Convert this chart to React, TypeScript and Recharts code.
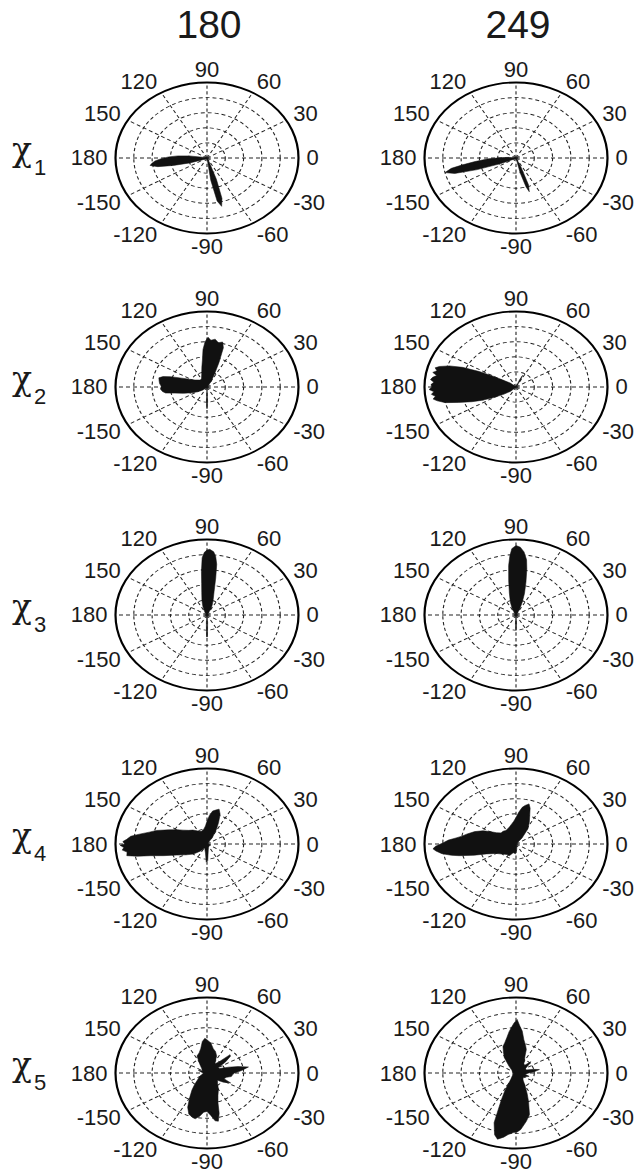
import { RadarChart, Radar, PolarGrid, PolarAngleAxis, PolarRadiusAxis } from 'recharts';

// column headers and row labels (chi_n)
const columnTitles = ['180', '249'];
const rowIndices = ['1', '2', '3', '4', '5'];
const angleTicks = [0, 30, 60, 90, 120, 150, 180, 210, 240, 270, 300, 330];
const ringLevels = [0.2, 0.4, 0.6, 0.8];

// [angle in degrees (0 = right, counter-clockwise), normalized density]
const chi1_180 = [
  [0, 0], [160, 0], [168, 0.05], [172, 0.2], [175, 0.32], [178, 0.42], [181, 0.5], [184, 0.57], [187, 0.61],
  [189, 0.63], [192, 0.55], [195, 0.38], [199, 0.2], [205, 0.06], [215, 0], [272, 0], [278, 0.3],
  [281, 0.58], [284, 0.66], [287, 0.56], [290, 0.3], [295, 0.05], [300, 0], [360, 0],
];
const chi1_249 = [
  [0, 0], [168, 0], [174, 0.08], [178, 0.15], [182, 0.3], [186, 0.45], [189, 0.6], [191, 0.72],
  [194, 0.8], [197, 0.7], [200, 0.45], [204, 0.18], [210, 0.04], [218, 0], [278, 0], [283, 0.2],
  [286, 0.4], [288, 0.47], [291, 0.38], [295, 0.12], [300, 0], [360, 0],
];
const chi2_180 = [
  [0, 0], [50, 0], [58, 0.08], [64, 0.18], [68, 0.35], [71, 0.55], [74, 0.62], [78, 0.6], [82, 0.64],
  [86, 0.62], [89, 0.66], [92, 0.6], [95, 0.5], [98, 0.36], [102, 0.27], [110, 0.17], [120, 0.12],
  [130, 0.12], [145, 0.16], [152, 0.22], [157, 0.3], [161, 0.42], [164, 0.5], [167, 0.54], [171, 0.53],
  [175, 0.52], [179, 0.5], [183, 0.51], [187, 0.49], [190, 0.46], [193, 0.36], [198, 0.27], [205, 0.18],
  [212, 0.12], [222, 0.06], [235, 0], [264, 0], [268, 0.2], [270, 0.29], [272, 0.2], [276, 0], [360, 0],
];
const chi2_249 = [
  [0, 0], [55, 0], [62, 0.12], [65, 0.17], [68, 0.1], [75, 0], [130, 0], [140, 0.08], [146, 0.14],
  [150, 0.28], [153, 0.45], [156, 0.64], [159, 0.78], [162, 0.88], [164, 0.92], [166, 0.89], [168, 0.93],
  [170, 0.88], [172, 0.92], [174, 0.94], [176, 0.9], [178, 0.93], [180, 0.92], [182, 0.95], [184, 0.9],
  [186, 0.93], [188, 0.89], [190, 0.92], [192, 0.88], [195, 0.8], [198, 0.66], [202, 0.52], [205, 0.42],
  [210, 0.28], [216, 0.16], [224, 0.08], [232, 0], [360, 0],
];
const chi3_180 = [
  [0, 0], [55, 0], [62, 0.1], [68, 0.16], [72, 0.22], [76, 0.32], [79, 0.5], [81, 0.68], [83, 0.78],
  [85, 0.84], [88, 0.87], [90, 0.86], [92, 0.83], [94, 0.76], [96, 0.58], [98, 0.42], [101, 0.3],
  [106, 0.2], [112, 0.12], [120, 0.05], [130, 0], [262, 0], [266, 0.1], [269, 0.29], [271, 0.29],
  [274, 0.1], [278, 0], [360, 0],
];
const chi3_249 = [
  [0, 0], [55, 0], [62, 0.08], [68, 0.18], [72, 0.3], [76, 0.45], [79, 0.62], [81, 0.74], [84, 0.84],
  [87, 0.9], [90, 0.92], [93, 0.88], [95, 0.78], [97, 0.66], [100, 0.46], [104, 0.3], [110, 0.18],
  [118, 0.08], [128, 0], [264, 0], [267, 0.12], [270, 0.2], [273, 0.12], [276, 0], [360, 0],
];
const chi4_180 = [
  [0, 0], [45, 0], [55, 0.1], [62, 0.22], [66, 0.31], [70, 0.42], [74, 0.48], [78, 0.46], [82, 0.44],
  [86, 0.38], [90, 0.3], [94, 0.24], [100, 0.2], [110, 0.18], [120, 0.2], [130, 0.24], [138, 0.27],
  [145, 0.32], [150, 0.38], [156, 0.46], [162, 0.58], [166, 0.65], [170, 0.75], [173, 0.84], [176, 0.88],
  [178, 0.92], [180, 0.9], [181, 0.95], [183, 0.91], [185, 0.93], [187, 0.88], [190, 0.89], [192, 0.78],
  [194, 0.64], [198, 0.5], [204, 0.36], [212, 0.27], [222, 0.2], [232, 0.12], [245, 0.06], [262, 0.12],
  [268, 0.24], [272, 0.22], [280, 0.08], [295, 0.04], [320, 0.03], [345, 0.04], [360, 0],
];
const chi4_249 = [
  [0, 0], [40, 0], [50, 0.1], [57, 0.24], [63, 0.32], [68, 0.4], [72, 0.5], [75, 0.55], [79, 0.52],
  [82, 0.49], [86, 0.42], [90, 0.35], [95, 0.3], [100, 0.27], [107, 0.24], [114, 0.22], [122, 0.21],
  [130, 0.22], [138, 0.22], [145, 0.26], [150, 0.33], [154, 0.4], [160, 0.48], [166, 0.55], [170, 0.6],
  [173, 0.66], [176, 0.74], [179, 0.8], [182, 0.88], [184, 0.91], [186, 0.88], [189, 0.82], [192, 0.72],
  [194, 0.64], [198, 0.48], [202, 0.35], [210, 0.25], [222, 0.2], [235, 0.17], [245, 0.17], [255, 0.12],
  [268, 0.13], [275, 0.08], [290, 0.03], [360, 0],
];
const chi5_180 = [
  [0, 0.3], [5, 0.38], [10, 0.46], [14, 0.35], [18, 0.25], [23, 0.15], [30, 0.14], [36, 0.25], [41, 0.34],
  [44, 0.35], [48, 0.2], [54, 0.15], [60, 0.18], [65, 0.25], [72, 0.3], [78, 0.33], [84, 0.4], [90, 0.44],
  [93, 0.46], [97, 0.42], [102, 0.33], [108, 0.28], [116, 0.25], [124, 0.14], [135, 0.08], [150, 0.06],
  [160, 0.1], [170, 0.06], [185, 0.04], [200, 0.06], [212, 0.1], [220, 0.13], [228, 0.2], [234, 0.28],
  [240, 0.38], [245, 0.5], [250, 0.58], [255, 0.61], [258, 0.62], [262, 0.58], [266, 0.52], [270, 0.51],
  [274, 0.56], [278, 0.64], [281, 0.65], [284, 0.55], [287, 0.41], [292, 0.32], [300, 0.25], [310, 0.18],
  [320, 0.15], [326, 0.22], [333, 0.29], [338, 0.2], [345, 0.22], [350, 0.27], [355, 0.28], [360, 0.3],
];
const chi5_249 = [
  [0, 0.14], [5, 0.2], [10, 0.26], [14, 0.2], [20, 0.12], [30, 0.12], [40, 0.2], [43, 0.22], [47, 0.14],
  [55, 0.15], [62, 0.2], [66, 0.24], [70, 0.33], [74, 0.38], [79, 0.45], [83, 0.56], [86, 0.62], [89, 0.71],
  [92, 0.66], [95, 0.6], [98, 0.55], [102, 0.48], [107, 0.42], [112, 0.38], [117, 0.3], [122, 0.24],
  [130, 0.12], [140, 0.06], [160, 0.04], [200, 0.03], [225, 0.06], [236, 0.1], [242, 0.25], [246, 0.4],
  [250, 0.7], [254, 0.85], [257, 0.9], [261, 0.86], [264, 0.82], [268, 0.79], [271, 0.78], [274, 0.75],
  [280, 0.65], [285, 0.57], [290, 0.4], [294, 0.3], [300, 0.2], [310, 0.12], [320, 0.1], [335, 0.12],
  [343, 0.15], [350, 0.1], [360, 0.14],
];

const panels = [
  [chi1_180, chi1_249],
  [chi2_180, chi2_249],
  [chi3_180, chi3_249],
  [chi4_180, chi4_249],
  [chi5_180, chi5_249],
];

const SIZE = 280;
const R = 91.5;
const SQUASH = 75.5 / 91.5; // plots are drawn as ellipses
const COL_X = [207, 516];
const ROW_Y = [158, 386.5, 615, 844, 1073];
const FONT = '"Liberation Sans", Arial, sans-serif';

function AngleTick(props: any) {
  const { x, y, textAnchor, payload } = props;
  const v = Number(payload.value);
  const label = v > 180 ? v - 360 : v;
  const s = Math.sin((v * Math.PI) / 180);
  return (
    <g transform={`translate(${x},${y}) scale(1,${1 / SQUASH})`}>
      <text
        x={0}
        y={-s * 6}
        textAnchor={textAnchor}
        dominantBaseline="central"
        fontSize={22}
        fill="#1a1a1a"
        fontFamily={FONT}
      >
        {label}
      </text>
    </g>
  );
}

function PolarPanel({ points, cx, cy }: { points: number[][]; cx: number; cy: number }) {
  const data = points.map(([angle, r]) => ({ angle, r }));
  return (
    <div
      style={{
        position: 'absolute',
        left: cx - SIZE / 2,
        top: cy - SIZE / 2,
        width: SIZE,
        height: SIZE,
        transform: `scaleY(${SQUASH})`,
      }}
    >
      <RadarChart
        width={SIZE}
        height={SIZE}
        data={data}
        cx={SIZE / 2}
        cy={SIZE / 2}
        outerRadius={R}
        startAngle={0}
        endAngle={360}
        margin={{ top: 0, right: 0, bottom: 0, left: 0 }}
      >
        <PolarGrid
          gridType="circle"
          polarRadius={ringLevels.map((l) => l * R)}
          polarAngles={angleTicks}
          stroke="#222"
          strokeWidth={1.1}
          strokeDasharray="4 3"
        />
        <PolarRadiusAxis type="number" domain={[0, 1]} tick={false} axisLine={false} />
        <PolarAngleAxis
          dataKey="angle"
          type="number"
          domain={[0, 360]}
          ticks={angleTicks}
          tick={AngleTick}
          tickLine={false}
          tickSize={8}
          axisLineType="circle"
          axisLine={{ stroke: '#000', strokeWidth: 2.2 }}
        />
        <Radar
          dataKey="r"
          fill="#111"
          fillOpacity={1}
          stroke="#111"
          strokeWidth={0.6}
          dot={false}
          isAnimationActive={false}
        />
      </RadarChart>
    </div>
  );
}

export default function App() {
  return (
    <div style={{ position: 'absolute', left: 0, top: 0, width: 634, height: 1176, background: '#fff' }}>
      {panels.map((row, i) =>
        row.map((pts, j) => <PolarPanel key={`${i}-${j}`} points={pts} cx={COL_X[j]} cy={ROW_Y[i]} />)
      )}
      <svg width={634} height={1176} style={{ position: 'absolute', left: 0, top: 0, pointerEvents: 'none' }}>
        {columnTitles.map((t, j) => (
          <text key={t} x={COL_X[j] + 2} y={38} textAnchor="middle" fontSize={39} fill="#1a1a1a" fontFamily={FONT}>
            {t}
          </text>
        ))}
        {rowIndices.map((n, i) => (
          <g key={n}>
            <text x={12} y={ROW_Y[i] + 3} fontSize={33} fill="#1a1a1a" fontFamily='"DejaVu Serif", serif'>
              χ
            </text>
            <text x={34} y={ROW_Y[i] + 17} fontSize={22} fill="#1a1a1a" fontFamily={FONT}>
              {n}
            </text>
          </g>
        ))}
      </svg>
    </div>
  );
}
